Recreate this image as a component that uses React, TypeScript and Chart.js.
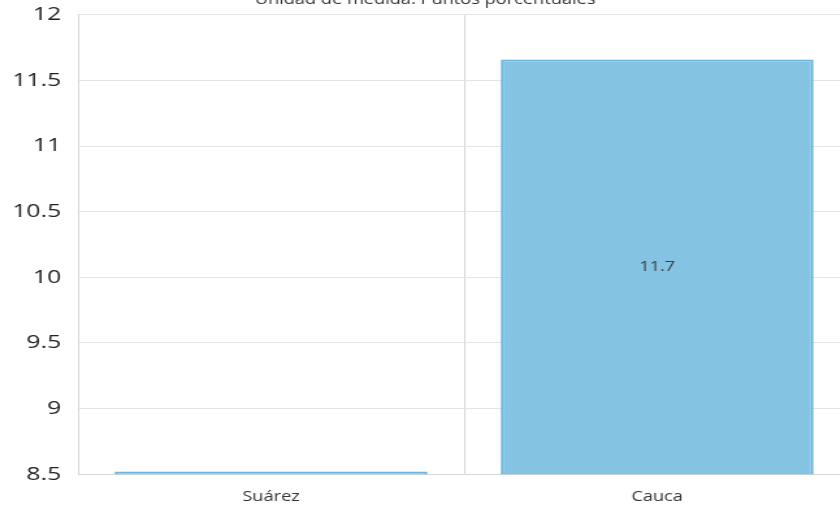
import React, { useEffect, useRef } from "react";
import { Chart, registerables } from "chart.js";

Chart.register(...registerables);

const chartTitle = "Unidad de medida: Puntos porcentuales";
const categories = ["Suárez", "Cauca"];
const values = [8.52, 11.66];
const yMin = 8.5;
const yMax = 12;
const yStep = 0.5;

const FONT = '"Open Sans", "DejaVu Sans", sans-serif';
const STRETCH = 1.3;
const W = 656;
const H = 508;

const barLabels = {
  id: "barLabels",
  afterDatasetsDraw(chart: any) {
    const ctx = chart.ctx;
    const area = chart.chartArea;
    const els = chart.getDatasetMeta(0).data;
    for (let i = 0; i < els.length; i++) {
      const bar = els[i];
      const top = Math.max(bar.y, area.top);
      const bottom = Math.min(bar.base, area.bottom);
      if (bottom - top < 20) continue;
      ctx.save();
      ctx.font = `14px ${FONT}`;
      ctx.fillStyle = "#3a3f44";
      ctx.textAlign = "center";
      ctx.textBaseline = "middle";
      ctx.fillText(values[i].toFixed(1), bar.x, (top + bottom) / 2);
      ctx.restore();
    }
  },
};

export default function App() {
  const ref = useRef<HTMLCanvasElement>(null);
  useEffect(() => {
    const chart = new Chart(ref.current as HTMLCanvasElement, {
      type: "bar",
      data: {
        labels: categories,
        datasets: [
          {
            data: values,
            backgroundColor: "#85C3E3",
            borderColor: "#6BB5DC",
            borderWidth: 2,
            categoryPercentage: 0.9,
            barPercentage: 0.9,
          },
        ],
      },
      options: {
        responsive: false,
        animation: false,
        devicePixelRatio: 1,
        layout: { padding: { top: -8, left: 0, right: 2, bottom: -11 } },
        plugins: {
          legend: { display: false },
          tooltip: { enabled: false },
          title: {
            display: true,
            text: chartTitle,
            color: "#333",
            font: { family: FONT, size: 14, weight: "normal" },
            padding: { top: 0, bottom: 6 },
          },
        },
        scales: {
          x: {
            grid: { color: "#d6d6d6", drawTicks: false, offset: true },
            border: { color: "#d6d6d6" },
            ticks: { padding: 14, color: "#333", font: { family: FONT, size: 14 } },
          },
          y: {
            min: yMin,
            max: yMax,
            grid: { color: "#e4e4e4", drawTicks: false },
            border: { color: "#d6d6d6" },
            ticks: {
              stepSize: yStep,
              padding: 13,
              color: "#222",
              font: { family: FONT, size: 19 },
              callback: (v: any) => String(Number(v)),
            },
            afterFit: (s: any) => {
              s.width = 60;
              s.paddingTop = 0;
              s.paddingBottom = 0;
            },
          },
        },
      } as any,
      plugins: [barLabels],
    });
    return () => chart.destroy();
  }, []);
  return (
    <div style={{ position: "fixed", left: 0, top: 0, width: 840, height: 508, overflow: "hidden", background: "#fff" }}>
      <div style={{ transform: `scaleX(${STRETCH})`, transformOrigin: "0 0", width: W, height: H }}>
        <canvas ref={ref} width={W} height={H} style={{ display: "block", width: W, height: H }} />
      </div>
    </div>
  );
}
